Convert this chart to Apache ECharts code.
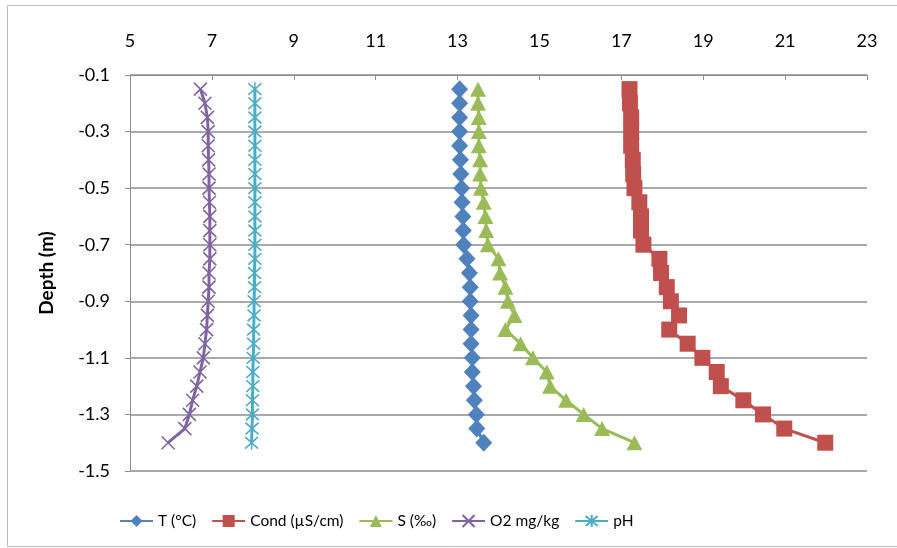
<!DOCTYPE html>
<html>
<head>
<meta charset="utf-8">
<script src="https://cdn.jsdelivr.net/npm/echarts@6/dist/echarts.min.js"></script>
<style>
  html, body { margin: 0; padding: 0; background: #fff; }
  #chart { width: 897px; height: 548px; }
</style>
</head>
<body>
<div id="chart"></div>
<script>
// Depth profile: each series is measured at the same depths (m)
const depth = [-0.15, -0.2, -0.25, -0.3, -0.35, -0.4, -0.45, -0.5, -0.55, -0.6, -0.65, -0.7, -0.75,
               -0.8, -0.85, -0.9, -0.95, -1.0, -1.05, -1.1, -1.15, -1.2, -1.25, -1.3, -1.35, -1.4];

const tempC = [13.05, 13.05, 13.05, 13.05, 13.05, 13.07, 13.08, 13.1, 13.11, 13.13, 13.14, 13.15, 13.23,
               13.29, 13.31, 13.31, 13.33, 13.33, 13.33, 13.36, 13.36, 13.39, 13.41, 13.46, 13.47, 13.64];
const cond = [17.2, 17.21, 17.24, 17.24, 17.24, 17.28, 17.29, 17.32, 17.44, 17.48, 17.48, 17.54, 17.93,
              17.97, 18.11, 18.21, 18.41, 18.17, 18.62, 18.98, 19.33, 19.43, 19.98, 20.46, 20.98, 21.98];
const salinity = [13.5, 13.5, 13.52, 13.52, 13.52, 13.55, 13.55, 13.57, 13.64, 13.68, 13.7, 13.74, 14.0,
                  14.04, 14.17, 14.23, 14.39, 14.17, 14.54, 14.84, 15.18, 15.26, 15.65, 16.08, 16.53, 17.32];
const oxygen = [6.72, 6.83, 6.89, 6.91, 6.91, 6.92, 6.93, 6.93, 6.94, 6.95, 6.95, 6.95, 6.95,
                6.93, 6.93, 6.91, 6.89, 6.87, 6.83, 6.79, 6.71, 6.63, 6.53, 6.45, 6.34, 5.93];
const ph = [8.05, 8.05, 8.05, 8.05, 8.05, 8.05, 8.05, 8.05, 8.05, 8.05, 8.05, 8.05, 8.05,
            8.04, 8.04, 8.03, 8.03, 8.02, 8.02, 8.01, 8.0, 8.0, 7.99, 7.99, 7.98, 7.97];

const seriesNames = ['T (°C)', 'Cond (µS/cm)', 'S (‰)', 'O2 mg/kg', 'pH'];
const xTicks = { min: 5, max: 23, step: 2 };
const yTicks = { min: -1.5, max: -0.1, step: 0.2 };

const FONT = 'Lato';
const pairs = vals => vals.map((v, i) => [v, depth[i]]);

const crossPath = 'path://M0,0L10,10M10,0L0,10';
const starPath = 'path://M0,0L10,10M10,0L0,10M5,-1L5,11';

function lineSeries(name, values, color, symbol, size, strokeOnly) {
  return {
    name: name,
    type: 'line',
    data: pairs(values),
    symbol: symbol,
    symbolSize: size,
    showAllSymbol: true,
    lineStyle: { color: color, width: 3 },
    itemStyle: strokeOnly
      ? { color: color, borderColor: color, borderWidth: 1.6 }
      : { color: color, borderWidth: 0 },
    emphasis: { disabled: true },
    animation: false
  };
}

const chart = echarts.init(document.getElementById('chart'), null, { renderer: 'canvas' });
chart.setOption({
  backgroundColor: '#ffffff',
  animation: false,
  textStyle: { fontFamily: FONT },
  graphic: [{
    type: 'rect',
    shape: { x: 7.5, y: 5.5, width: 900, height: 541 },
    style: { fill: 'none', stroke: '#bdbdbd', lineWidth: 1 },
    silent: true
  }],
  grid: { left: 130, right: 30, top: 75, bottom: 77, containLabel: false },
  legend: {
    left: 114,
    top: 508,
    itemWidth: 33,
    itemHeight: 15,
    itemGap: 15,
    textStyle: { fontFamily: FONT, fontSize: 15.5, color: '#000' },
    data: seriesNames
  },
  xAxis: {
    type: 'value',
    position: 'top',
    min: xTicks.min,
    max: xTicks.max,
    interval: xTicks.step,
    axisLine: { show: true, onZero: false, lineStyle: { color: '#8c8c8c', width: 1 } },
    axisTick: { show: true, inside: true, length: 5, lineStyle: { color: '#8c8c8c' } },
    axisLabel: { fontFamily: FONT, fontSize: 18, color: '#000', margin: 25 },
    splitLine: { show: false }
  },
  yAxis: {
    type: 'value',
    min: yTicks.min,
    max: yTicks.max,
    interval: yTicks.step,
    name: 'Depth (m)',
    nameLocation: 'middle',
    nameRotate: 90,
    nameGap: 74,
    nameTextStyle: { fontFamily: FONT, fontSize: 19, fontWeight: 'bold', color: '#000' },
    axisLine: { show: true, onZero: false, lineStyle: { color: '#8c8c8c', width: 1 } },
    axisTick: { show: true, inside: false, length: 5, lineStyle: { color: '#8c8c8c' } },
    axisLabel: { fontFamily: FONT, fontSize: 18, color: '#000', margin: 20,
                 formatter: v => v.toFixed(1) },
    splitLine: { show: true, lineStyle: { color: '#8c8c8c', width: 1.5 } }
  },
  series: [
    lineSeries(seriesNames[0], tempC, '#4F81BD', 'diamond', [17, 18], false),
    lineSeries(seriesNames[1], cond, '#C0504D', 'rect', [16, 16], false),
    lineSeries(seriesNames[2], salinity, '#9BBB59', 'triangle', [16, 15], false),
    lineSeries(seriesNames[3], oxygen, '#8064A2', crossPath, [13, 13], true),
    lineSeries(seriesNames[4], ph, '#4BACC6', starPath, [13, 14], true)
  ]
});
</script>
</body>
</html>
